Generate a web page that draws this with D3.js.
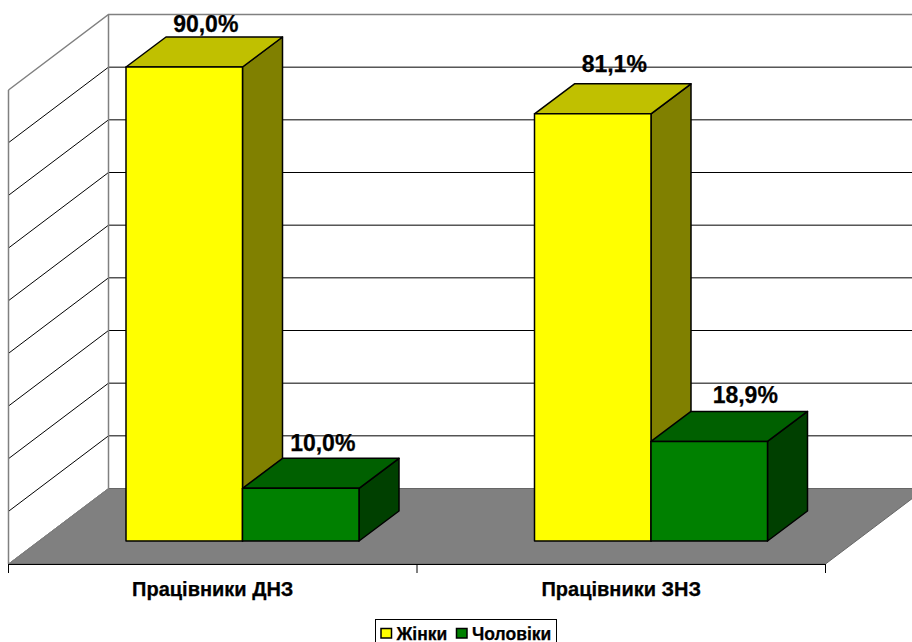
<!DOCTYPE html>
<html>
<head>
<meta charset="utf-8">
<script src="https://cdn.jsdelivr.net/npm/d3@7"></script>
<style>
    html, body { margin: 0; padding: 0; background: #fff; }
    svg { display: block; }
    text { font-family: "Liberation Sans", Arial, sans-serif; font-weight: bold; fill: #000; stroke: #000; stroke-width: 0.25px; }
    .cat { font-size: 20px; }
    .val { font-size: 23px; }
    .leg { font-size: 17.5px; }
</style>
</head>
<body>
<svg id="chart" width="912" height="642"></svg>
<script>
const categories = ['Працівники ДНЗ', 'Працівники ЗНЗ'];
const seriesNames = ['Жінки', 'Чоловіки'];
const women = [90.0, 81.1];
const men = [10.0, 18.9];
const yTicks = [0, 10, 20, 30, 40, 50, 60, 70, 80, 90];

const faces = [
    { front: '#ffff00', top: '#c0c000', side: '#808000' },
    { front: '#008000', top: '#006000', side: '#004000' }
];
// floor / wall depth and the depth of a bar, in px
const wallDx = 100, wallDy = 75.5;
const barDx = 40, barDy = 30;
const frontDx = 30, frontDy = 22.5;
// hand placed labels, [dx, dy] from the bar's top centre
const labelNudge = [
    [[1.5, -5.5], [2, -7]],
    [[1.5, -12], [16, -8]]
];

const svg = d3.select('#chart');
const seriesValues = [women, men];

const x = d3.scaleBand().domain(categories).range([8.5, 825.5]);
const xEdges = d3.scaleLinear().domain([0, categories.length]).range([8.5, 825.5]);
const xInner = d3.scaleBand().domain(seriesNames).range([0, 233]);
const innerLeft = (x.bandwidth() - 233) / 2 + frontDx - 0.25;

// y for the back wall, 0 at the back of the floor
const y = d3.scaleLinear().domain([0, 90]).range([488.5, 14.5]);

const pts = (a) => a.map((p) => p.join(',')).join(' ');

// floor
const backLeft = x.range()[0] + wallDx;
svg.append('polygon')
    .attr('points', pts([[x.range()[0], y(0) + wallDy], [x.range()[1], y(0) + wallDy], [x.range()[1] + wallDx, y(0)], [backLeft, y(0)]]))
    .attr('fill', '#808080')
    .attr('stroke', '#666')
    .attr('stroke-width', 1);

// gridlines on both walls
const grid = svg.append('g');
yTicks.forEach((t) => {
    const edge = t === 90;
    grid.append('polyline')
        .attr('points', pts([[x.range()[0], y(t) + wallDy], [backLeft, y(t)], [x.range()[1] + wallDx, y(t)]]))
        .attr('fill', 'none')
        .attr('stroke', edge ? '#808080' : '#000')
        .attr('stroke-width', t === 0 ? 0 : (edge ? 1.5 : 1));
});

// wall edges
svg.append('line').attr('x1', backLeft).attr('x2', backLeft).attr('y1', y(90)).attr('y2', y(0))
    .attr('stroke', '#808080').attr('stroke-width', 1.5);
svg.append('line').attr('x1', x.range()[0]).attr('x2', x.range()[0]).attr('y1', y(90) + wallDy).attr('y2', y(0) + wallDy)
    .attr('stroke', '#808080').attr('stroke-width', 1.5);
svg.append('line').attr('x1', x.range()[0]).attr('x2', backLeft).attr('y1', y(0) + wallDy).attr('y2', y(0))
    .attr('stroke', '#808080');

// axis ticks under the floor
const axis = svg.append('g')
    .attr('transform', 'translate(0,' + (y(0) + wallDy) + ')')
    .call(d3.axisBottom(xEdges).tickValues(d3.range(categories.length + 1)).tickFormat('').tickSize(9).tickSizeOuter(0));
axis.selectAll('line').attr('stroke', '#000').attr('transform', 'translate(-0.5,0)');
axis.select('.domain').attr('stroke', '#000');

// bars, front y is the wall scale pushed forward
const bars = svg.append('g');
categories.forEach((c, ci) => {
    seriesNames.forEach((s, si) => {
        const v = seriesValues[si][ci];
        const x0 = x(c) + innerLeft + xInner(s);
        const x1 = x0 + xInner.bandwidth();
        const yTop = y(v) + frontDy + barDy;
        const yBase = y(0) + frontDy + barDy;
        const g = bars.append('g')
            .attr('stroke', '#000')
            .attr('stroke-width', 1.5)
            .attr('stroke-linejoin', 'round');
        g.append('polygon')
            .attr('points', pts([[x1, yTop], [x1 + barDx, yTop - barDy], [x1 + barDx, yBase - barDy], [x1, yBase]]))
            .attr('fill', faces[si].side);
        g.append('polygon')
            .attr('points', pts([[x0, yTop], [x0 + barDx, yTop - barDy], [x1 + barDx, yTop - barDy], [x1, yTop]]))
            .attr('fill', faces[si].top);
        g.append('rect')
            .attr('x', x0).attr('y', yTop)
            .attr('width', x1 - x0).attr('height', yBase - yTop)
            .attr('fill', faces[si].front);
    });
});

// value labels
categories.forEach((c, ci) => {
    seriesNames.forEach((s, si) => {
        const v = seriesValues[si][ci];
        const cx = x(c) + innerLeft + xInner(s) + xInner.bandwidth() / 2 + barDx / 2;
        const n = labelNudge[ci][si];
        svg.append('text')
            .attr('class', 'val')
            .attr('x', cx + n[0])
            .attr('y', y(v) + frontDy + n[1])
            .attr('text-anchor', 'middle')
            .text(v.toFixed(1).replace('.', ',') + '%');
    });
});

// category labels
svg.selectAll('text.cat').data(categories).enter().append('text')
    .attr('class', 'cat')
    .attr('x', (d) => x(d) + x.bandwidth() / 2)
    .attr('y', 596)
    .attr('text-anchor', 'middle')
    .text((d) => d);

// legend
const legend = svg.append('g');
legend.append('rect')
    .attr('x', 375.5).attr('y', 619.5).attr('width', 181).attr('height', 30)
    .attr('fill', '#fff').attr('stroke', '#000').attr('stroke-width', 1);
const legendX = d3.scaleOrdinal().domain(seriesNames).range([380.5, 456]);
seriesNames.forEach((s, si) => {
    legend.append('rect')
        .attr('x', legendX(s) + 0.5).attr('y', 628.5).attr('width', 10.5).attr('height', 9.5)
        .attr('fill', faces[si].front).attr('stroke', '#000').attr('stroke-width', 1.5);
    legend.append('text')
        .attr('class', 'leg')
        .attr('x', legendX(s) + 16).attr('y', 639.5)
        .text(s);
});
</script>
</body>
</html>
